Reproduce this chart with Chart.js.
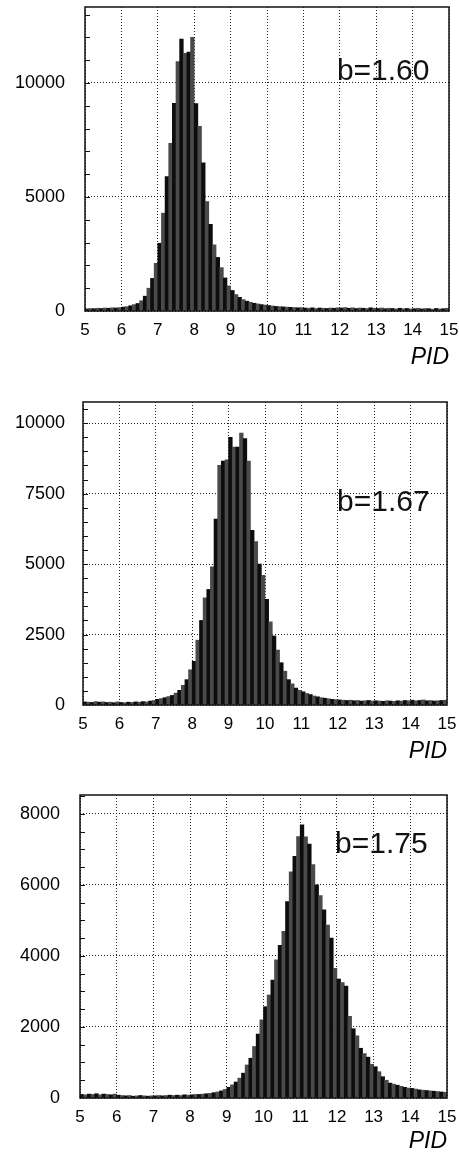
<!DOCTYPE html>
<html>
<head>
<meta charset="utf-8">
<script src="https://cdn.jsdelivr.net/npm/chart.js@4.4.1/dist/chart.umd.min.js"></script>
<style>
body { margin: 0; background: #fff; }
canvas { position: absolute; left: 0; }
</style>
</head>
<body>
<canvas id="p160" width="459" height="380" style="top:0px"></canvas>
<canvas id="p167" width="459" height="380" style="top:385px"></canvas>
<canvas id="p175" width="459" height="385" style="top:770px"></canvas>
<script>
// bin centres (bin width 0.1 from 5 to 15)
const pidBins = [
  5.05, 5.15, 5.25, 5.35, 5.45, 5.55, 5.65, 5.75, 5.85, 5.95,
  6.05, 6.15, 6.25, 6.35, 6.45, 6.55, 6.65, 6.75, 6.85, 6.95,
  7.05, 7.15, 7.25, 7.35, 7.45, 7.55, 7.65, 7.75, 7.85, 7.95,
  8.05, 8.15, 8.25, 8.35, 8.45, 8.55, 8.65, 8.75, 8.85, 8.95,
  9.05, 9.15, 9.25, 9.35, 9.45, 9.55, 9.65, 9.75, 9.85, 9.95,
  10.05, 10.15, 10.25, 10.35, 10.45, 10.55, 10.65, 10.75, 10.85, 10.95,
  11.05, 11.15, 11.25, 11.35, 11.45, 11.55, 11.65, 11.75, 11.85, 11.95,
  12.05, 12.15, 12.25, 12.35, 12.45, 12.55, 12.65, 12.75, 12.85, 12.95,
  13.05, 13.15, 13.25, 13.35, 13.45, 13.55, 13.65, 13.75, 13.85, 13.95,
  14.05, 14.15, 14.25, 14.35, 14.45, 14.55, 14.65, 14.75, 14.85, 14.95
];

// b=1.60
const counts160 = [
  90, 110, 100, 120, 110, 130, 120, 140, 130, 150,
  170, 190, 230, 280, 330, 450, 650, 1000, 1430, 2090,
  2970, 4290, 5890, 7350, 9110, 10940, 11920, 11300, 11350, 12000,
  9100, 8100, 6500, 4800, 3800, 2900, 2350, 1900, 1450, 1100,
  900, 720, 600, 500, 430, 380, 340, 310, 280, 260,
  240, 220, 200, 190, 180, 170, 160, 150, 140, 150,
  130, 120, 140, 110, 130, 120, 110, 130, 120, 140,
  130, 150, 120, 140, 110, 130, 120, 110, 140, 120,
  110, 130, 100, 120, 110, 90, 120, 100, 110, 90,
  100, 120, 90, 110, 100, 80, 110, 90, 100, 120
];

// b=1.67
const counts167 = [
  110, 100, 90, 120, 100, 110, 90, 100, 80, 110,
  90, 80, 100, 90, 110, 100, 120, 110, 140, 160,
  200, 230, 260, 300, 340, 420, 520, 700, 900, 1250,
  1550, 2300, 3000, 3800, 4100, 4900, 6600, 8500, 8650, 8700,
  9500, 9150, 9150, 9650, 9450, 8650, 6200, 5800, 5000, 4600,
  3750, 2950, 2450, 1950, 1500, 1200, 900, 750, 600, 520,
  470, 410, 370, 320, 290, 260, 240, 220, 200, 190,
  180, 170, 160, 170, 150, 160, 140, 150, 160, 140,
  150, 140, 130, 150, 140, 130, 150, 140, 160, 150,
  170, 150, 160, 180, 150, 160, 140, 150, 160, 170
];

// b=1.75
const counts175 = [
  100, 90, 110, 100, 120, 90, 110, 100, 90, 110,
  80, 70, 60, 70, 50, 60, 70, 60, 50, 60,
  60, 70, 60, 70, 80, 70, 80, 70, 90, 80,
  90, 100, 100, 110, 120, 130, 150, 170, 200, 240,
  300, 370, 450, 560, 700, 930, 1120, 1450, 1800, 2200,
  2570, 2900, 3320, 3890, 4300, 4690, 5530, 6370, 6800, 7360,
  7690, 7350, 7150, 6570, 6000, 5700, 5300, 4870, 4500, 3650,
  3350, 3250, 3150, 2300, 1950, 1750, 1400, 1250, 1150, 950,
  880, 740, 600, 500, 420, 390, 360, 330, 300, 280,
  270, 250, 230, 220, 210, 200, 190, 180, 170, 160
];

const xTicks = [5, 6, 7, 8, 9, 10, 11, 12, 13, 14, 15];
const yTicks160 = [0, 5000, 10000];
const yTicks167 = [0, 2500, 5000, 7500, 10000];
const yTicks175 = [0, 2000, 4000, 6000, 8000];

const FONT = "'Liberation Sans', Helvetica, Arial, sans-serif";

// frame, inner minor ticks on the y axis and the b= label
const framePlugin = {
  id: 'frame',
  afterDatasetsDraw(chart, args, opts) {
    const ctx = chart.ctx, a = chart.chartArea, xs = chart.scales.x, ys = chart.scales.y;
    ctx.save();
    ctx.strokeStyle = '#111';
    ctx.lineWidth = 1;
    for (let v = opts.minorStep; v < ys.max; v += opts.minorStep) {
      const y = Math.round(ys.getPixelForValue(v)) + 0.5;
      ctx.beginPath();
      ctx.moveTo(a.left, y);
      ctx.lineTo(a.left + 5, y);
      ctx.stroke();
    }
    ctx.lineWidth = 1.5;
    ctx.strokeRect(a.left, a.top, a.right - a.left, a.bottom - a.top);
    ctx.font = '30px ' + FONT;
    ctx.fillStyle = '#111';
    ctx.textAlign = 'left';
    ctx.textBaseline = 'middle';
    ctx.fillText(opts.text, xs.getPixelForValue(opts.x), ys.getPixelForValue(opts.y));
    ctx.restore();
  }
};

function makePanel(id, counts, yTicks, yMax, minorStep, text, tx, ty, box) {
  new Chart(id, {
    type: 'bar',
    data: {
      datasets: [{
        data: pidBins.map((x, i) => ({ x: x, y: counts[i] })),
        backgroundColor: counts.map((v, i) => i % 2 ? '#4a4a4a' : '#0d0d0d'),
        borderWidth: 0,
        barPercentage: 1,
        categoryPercentage: 1
      }]
    },
    options: {
      responsive: false,
      animation: false,
      layout: { padding: { left: 0, right: box.right, top: box.top, bottom: 0 } },
      plugins: {
        legend: { display: false },
        tooltip: { enabled: false },
        frame: { minorStep: minorStep, text: text, x: tx, y: ty }
      },
      scales: {
        x: {
          type: 'linear',
          min: 5,
          max: 15,
          offset: false,
          afterFit: s => {
            s.height = box.xh;
            s.paddingLeft = 0;
            s.paddingRight = 0;
          },
          afterBuildTicks: s => { s.ticks = xTicks.map(v => ({ value: v })); },
          grid: { color: '#222', lineWidth: 1, drawTicks: false, offset: false },
          border: { display: false, dash: [1, 2] },
          ticks: { color: '#000', padding: 9, font: { family: FONT, size: 17 }, maxRotation: 0 },
          title: {
            display: true, text: 'PID', align: 'end', color: '#000',
            font: { family: FONT, size: 23, style: 'italic' },
            padding: { top: 0, bottom: box.tb }
          }
        },
        y: {
          min: 0,
          max: yMax,
          afterFit: s => {
            s.width = box.yw;
            s.paddingTop = 0;
            s.paddingBottom = 0;
          },
          afterBuildTicks: s => { s.ticks = yTicks.map(v => ({ value: v })); },
          grid: { color: '#222', lineWidth: 1, drawTicks: false },
          border: { display: false, dash: [1, 2] },
          ticks: {
            color: '#000', padding: box.yp, font: { family: FONT, size: 18 },
            callback: v => String(v)
          }
        }
      }
    },
    plugins: [framePlugin]
  });
}

makePanel('p160', counts160, yTicks160, 13330, 1000, 'b=1.60', 11.92, 10480,
  { top: 7, right: 10, xh: 69, yw: 85, yp: 20, tb: 9 });
makePanel('p167', counts167, yTicks167, 10750, 500, 'b=1.67', 11.98, 7160,
  { top: 17, right: 12, xh: 60, yw: 83, yp: 18, tb: 0 });
makePanel('p175', counts175, yTicks175, 8530, 500, 'b=1.75', 11.95, 7130,
  { top: 25, right: 12, xh: 57, yw: 80, yp: 20, tb: 0 });
</script>
</body>
</html>
